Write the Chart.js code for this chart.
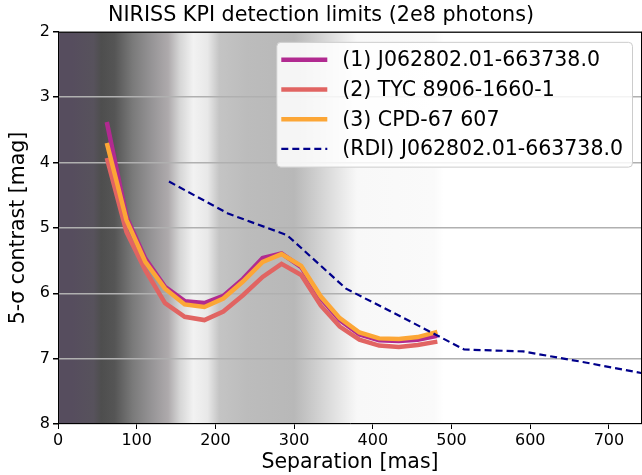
<!DOCTYPE html>
<html>
<head>
<meta charset="utf-8">
<script src="https://cdn.jsdelivr.net/npm/chart.js@4"></script>
<style>
  html, body { margin: 0; padding: 0; background: #fff; }
  #wrap { width: 642px; height: 475px; position: relative; }
</style>
</head>
<body>
<div id="wrap"><canvas id="c" width="642" height="475"></canvas></div>
<script>
// ---- data ----
const separation = [62, 87, 111, 136, 161, 186, 210, 235, 260, 284, 309, 334, 358, 383, 408, 433, 457, 482];
const contrast1 = [3.38, 4.83, 5.47, 5.90, 6.12, 6.15, 6.04, 5.78, 5.46, 5.39, 5.60, 6.08, 6.41, 6.63, 6.72, 6.73, 6.71, 6.65];
const contrast2 = [3.93, 5.06, 5.65, 6.15, 6.36, 6.41, 6.28, 6.03, 5.75, 5.55, 5.72, 6.19, 6.51, 6.71, 6.80, 6.82, 6.79, 6.74];
const contrast3 = [3.70, 4.88, 5.52, 5.93, 6.17, 6.21, 6.08, 5.82, 5.52, 5.40, 5.58, 6.05, 6.38, 6.60, 6.69, 6.70, 6.67, 6.59];
const rdiSeparation = [141, 216, 291, 366, 441, 516, 591, 666, 741];
const rdiContrast = [4.29, 4.78, 5.11, 5.93, 6.39, 6.86, 6.89, 7.05, 7.22];
const labels = ["(1) J062802.01-663738.0", "(2) TYC 8906-1660-1", "(3) CPD-67 607", "(RDI) J062802.01-663738.0"];
const xTicks = [0, 100, 200, 300, 400, 500, 600, 700];
const yTicks = [2, 3, 4, 5, 6, 7, 8];

// background intensity map stops (separation in mas -> gray colour)
const bgStops = [
  [0, '#e0e0e0'], [2, '#564d5e'], [17, '#564d5e'], [45, '#57525c'], [55, '#4e4e4e'], [72, '#555555'],
  [95, '#7a7a7a'], [120, '#979597'], [140, '#aeaaac'], [155, '#d6d6d6'], [172, '#f2f2f2'],
  [190, '#e8e8e8'], [205, '#c4c4c4'], [240, '#bcbcbc'], [300, '#b8b8b8'], [340, '#d8d8d8'],
  [380, '#f8f8f8'], [478, '#fafafa'], [490, '#ffffff']
];

const FONT = "'DejaVu Sans', sans-serif";

const toXY = (xs, ys) => xs.map((x, i) => ({x: x, y: ys[i]}));

const bgPlugin = {
  id: 'bg',
  beforeDraw(chart) {
    const {ctx, chartArea: a, scales: {x}} = chart;
    const g = ctx.createLinearGradient(a.left, 0, a.right, 0);
    const w = a.right - a.left;
    bgStops.forEach(([v, c]) => {
      const p = (x.getPixelForValue(v) - a.left) / w;
      g.addColorStop(Math.min(1, Math.max(0, p)), c);
    });
    ctx.save();
    ctx.fillStyle = g;
    ctx.fillRect(a.left, a.top, w, a.bottom - a.top);
    ctx.restore();
  }
};

const framePlugin = {
  id: 'frame',
  afterDraw(chart) {
    const {ctx, chartArea: a} = chart;
    ctx.save();
    ctx.strokeStyle = '#000';
    ctx.lineWidth = 1;
    ctx.beginPath();
    ctx.moveTo(a.left, a.top + 0.5);
    ctx.lineTo(a.right, a.top + 0.5);
    ctx.moveTo(a.right - 0.5, a.top);
    ctx.lineTo(a.right - 0.5, a.bottom);
    ctx.stroke();

    // legend box inside the axes (upper right)
    const ds = chart.data.datasets;
    ctx.font = '20.5px ' + FONT;
    let tw = 0;
    ds.forEach(d => { tw = Math.max(tw, ctx.measureText(d.label).width); });
    const rowH = 29.7, padL = 5, lineLen = 46, gap = 15, padR = 9, padT = 3;
    const boxW = padL + lineLen + gap + tw + padR;
    const boxH = padT * 2 + rowH * ds.length;
    const bx = a.right - 10 - boxW, by = a.top + 10;
    ctx.fillStyle = 'rgba(255,255,255,0.85)';
    ctx.strokeStyle = '#cccccc';
    ctx.beginPath();
    if (ctx.roundRect) ctx.roundRect(bx + 0.5, by + 0.5, boxW, boxH, 4); else ctx.rect(bx + 0.5, by + 0.5, boxW, boxH);
    ctx.fill();
    ctx.stroke();
    ds.forEach((d, i) => {
      const cy = by + padT + 15 + i * rowH;
      ctx.strokeStyle = d.borderColor;
      ctx.lineWidth = d.borderWidth;
      ctx.setLineDash(d.borderDash || []);
      ctx.beginPath();
      ctx.moveTo(bx + padL, cy);
      ctx.lineTo(bx + padL + lineLen, cy);
      ctx.stroke();
      ctx.setLineDash([]);
      ctx.fillStyle = '#000';
      ctx.textBaseline = 'middle';
      ctx.textAlign = 'left';
      ctx.fillText(d.label, bx + padL + lineLen + gap, cy + 1);
    });
    ctx.restore();
  }
};

new Chart(document.getElementById('c'), {
  type: 'line',
  data: {
    datasets: [
      {label: labels[0], data: toXY(separation, contrast1), borderColor: '#b12a90', borderWidth: 4.5, order: 4},
      {label: labels[1], data: toXY(separation, contrast2), borderColor: '#e16462', borderWidth: 4.5, order: 3},
      {label: labels[2], data: toXY(separation, contrast3), borderColor: '#fca636', borderWidth: 4.5, order: 2},
      {label: labels[3], data: toXY(rdiSeparation, rdiContrast), borderColor: '#00008b', borderWidth: 2.2, borderDash: [7, 4], order: 1}
    ]
  },
  options: {
    responsive: false,
    animation: false,
    devicePixelRatio: 1,
    layout: {padding: {left: 0, right: 0, top: 0, bottom: 0}},
    elements: {point: {radius: 0, hoverRadius: 0}, line: {tension: 0, fill: false, borderCapStyle: 'butt'}},
    plugins: {
      legend: {display: false},
      tooltip: {enabled: false},
      title: {
        display: true,
        text: 'NIRISS KPI detection limits (2e8 photons)',
        color: '#000',
        font: {family: FONT, size: 20.7, weight: 'normal', lineHeight: 1.2},
        padding: {top: 3.5, bottom: 3.5}
      }
    },
    scales: {
      x: {
        type: 'linear',
        min: 0,
        max: 742,
        afterFit(s) { s.height = 51; },
        afterBuildTicks(s) { s.ticks = xTicks.map(v => ({value: v})); },
        ticks: {color: '#000', font: {family: FONT, size: 16}, padding: 2, maxRotation: 0, autoSkip: false},
        grid: {drawOnChartArea: false, drawTicks: true, tickLength: 5, tickColor: '#000'},
        border: {color: '#000', width: 1},
        title: {display: true, text: 'Separation [mas]', color: '#000', font: {family: FONT, size: 20.5}, padding: {top: 0, bottom: 0}}
      },
      y: {
        type: 'linear',
        reverse: true,
        min: 2,
        max: 8,
        afterFit(s) { s.width = 58; },
        afterBuildTicks(s) { s.ticks = yTicks.map(v => ({value: v})); },
        ticks: {color: '#000', font: {family: FONT, size: 16}, padding: 3, autoSkip: false},
        grid: {drawOnChartArea: true, color: '#b0b0b0', lineWidth: 1.5, drawTicks: true, tickLength: 5, tickColor: '#000'},
        border: {color: '#000', width: 1},
        title: {display: true, text: '5-σ contrast [mag]', color: '#000', font: {family: FONT, size: 20.5}, padding: {top: 6, bottom: 0}}
      }
    }
  },
  plugins: [bgPlugin, framePlugin]
});
</script>
</body>
</html>
